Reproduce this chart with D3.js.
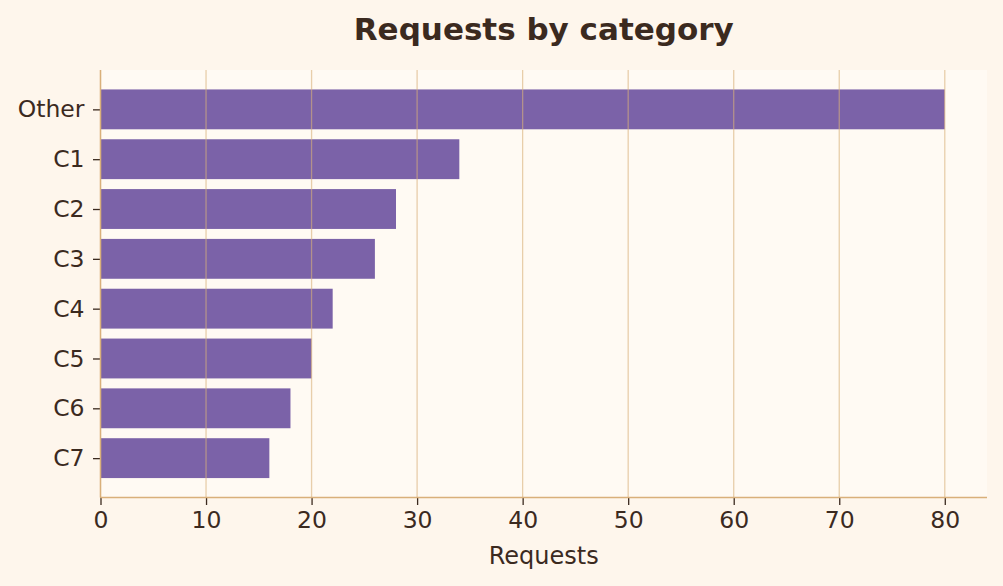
<!DOCTYPE html>
<html>
<head>
<meta charset="utf-8">
<script src="https://cdn.jsdelivr.net/npm/d3@7"></script>
<style>
  body { margin: 0; background: #fef6ec; }
  svg { display: block; font-family: "DejaVu Sans", sans-serif; }
</style>
</head>
<body>
<script>
// dati del grafico
var categories = ["Other", "C1", "C2", "C3", "C4", "C5", "C6", "C7"];
var requests = [80, 34, 28, 26, 22, 20, 18, 16];
var xTicks = [0, 10, 20, 30, 40, 50, 60, 70, 80];

var width = 1003, height = 586;
var margin = { top: 70, right: 16, bottom: 88.5, left: 100.5 };
var plotW = width - margin.left - margin.right;
var plotH = height - margin.top - margin.bottom;

var textColor = "#3b2a1f";
var spineColor = "#d9b07a";

var svg = d3.select("body")
  .append("svg")
  .attr("width", width)
  .attr("height", height);

svg.append("rect")
  .attr("width", width)
  .attr("height", height)
  .attr("fill", "#fef6ec");

var g = svg.append("g")
  .attr("transform", "translate(" + margin.left + "," + margin.top + ")");

g.append("rect")
  .attr("width", plotW)
  .attr("height", plotH)
  .attr("fill", "#fffaf3");

// scale
var xScale = d3.scaleLinear().domain([0, 84]).range([0, plotW]);
var yScale = d3.scaleLinear().domain([-0.79, categories.length - 1 + 0.79]).range([0, plotH]);

var data = categories.map(function (c, i) { return { cat: c, val: requests[i], idx: i }; });

// barre
g.selectAll("rect.bar")
  .data(data)
  .enter()
  .append("rect")
  .attr("class", "bar")
  .attr("x", xScale(0))
  .attr("y", function (d) { return yScale(d.idx - 0.4); })
  .attr("width", function (d) { return xScale(d.val) - xScale(0); })
  .attr("height", function (d) { return yScale(d.idx + 0.4) - yScale(d.idx - 0.4); })
  .attr("fill", "#7b62a8");

// griglia verticale sopra le barre
g.selectAll("line.grid")
  .data(xTicks)
  .enter()
  .append("line")
  .attr("class", "grid")
  .attr("x1", function (d) { return xScale(d); })
  .attr("x2", function (d) { return xScale(d); })
  .attr("y1", 0)
  .attr("y2", plotH)
  .attr("stroke", spineColor)
  .attr("stroke-opacity", 0.6)
  .attr("stroke-width", 1.3);

// assi
var xAxis = d3.axisBottom(xScale)
  .tickValues(xTicks)
  .tickSize(7.5)
  .tickPadding(6);

var gx = g.append("g")
  .attr("transform", "translate(0," + plotH + ")")
  .call(xAxis);

var yAxis = d3.axisLeft(yScale)
  .tickValues(d3.range(categories.length))
  .tickFormat(function (i) { return categories[i]; })
  .tickSize(7.5)
  .tickPadding(8.5);

var gy = g.append("g").call(yAxis);

[gx, gy].forEach(function (ax) {
  ax.select(".domain").remove();
  ax.selectAll(".tick line").attr("stroke", textColor).attr("stroke-width", 1.3);
  ax.selectAll(".tick text")
    .attr("fill", textColor)
    .style("font-size", "23.5px")
    .style("font-family", "DejaVu Sans");
});

// spine sinistra e inferiore
g.append("line")
  .attr("x1", 0).attr("x2", 0)
  .attr("y1", 0).attr("y2", plotH)
  .attr("stroke", spineColor).attr("stroke-width", 1.4);

g.append("line")
  .attr("x1", 0).attr("x2", plotW)
  .attr("y1", plotH).attr("y2", plotH)
  .attr("stroke", spineColor).attr("stroke-width", 1.4);

// titolo ed etichetta asse
svg.append("text")
  .attr("x", margin.left + plotW / 2)
  .attr("y", 39.5)
  .attr("text-anchor", "middle")
  .attr("fill", textColor)
  .style("font-size", "31px")
  .style("font-weight", "bold")
  .text("Requests by category");

svg.append("text")
  .attr("x", margin.left + plotW / 2)
  .attr("y", 564)
  .attr("text-anchor", "middle")
  .attr("fill", textColor)
  .style("font-size", "24px")
  .text("Requests");
</script>
</body>
</html>
